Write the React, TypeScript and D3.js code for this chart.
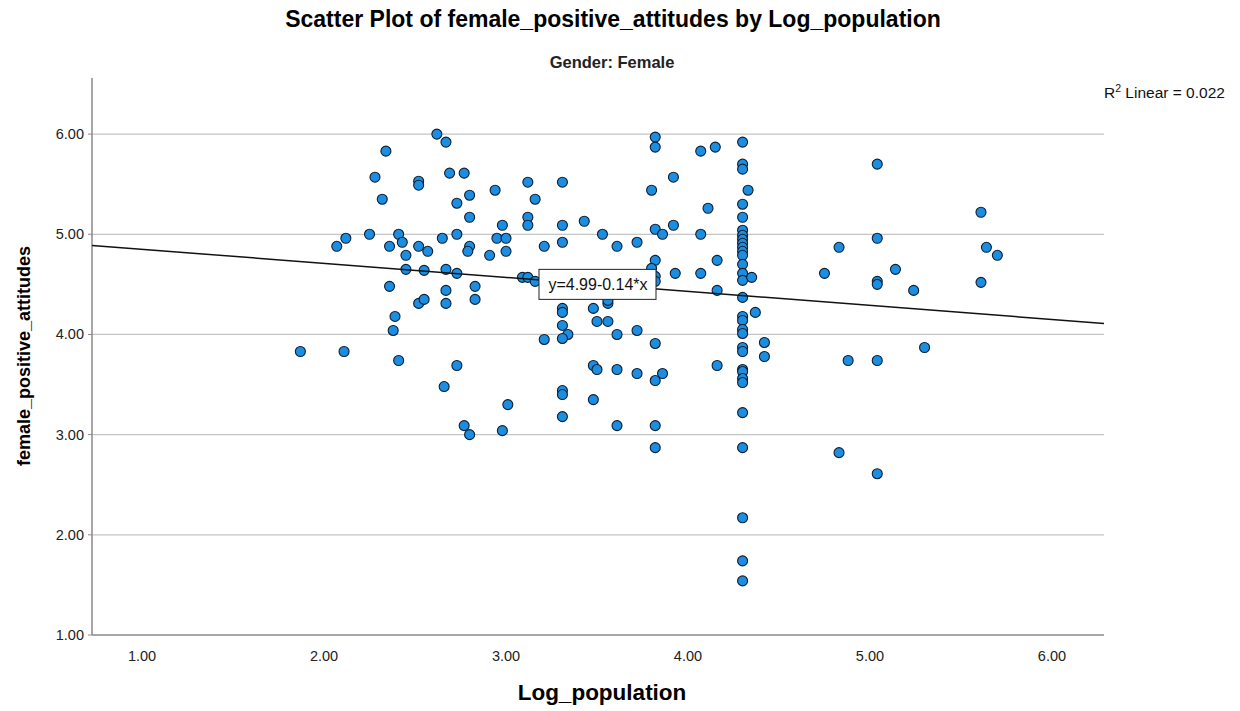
import React from "react";
import * as d3 from "d3";

const xValues: number[] = [
  1.87, 2.11, 2.07, 2.12, 2.25, 2.28, 2.32, 2.34, 2.36, 2.36, 2.39, 2.38, 2.41, 2.43, 2.45, 2.45, 2.41,
  2.52, 2.52, 2.52, 2.57, 2.55, 2.52, 2.55, 2.65, 2.62, 2.67, 2.69, 2.67, 2.67, 2.67, 2.73, 2.73, 2.73,
  2.73, 2.66, 2.77, 2.80, 2.80, 2.80, 2.79, 2.83, 2.83, 2.77, 2.80, 2.94, 2.95, 2.91, 2.98, 3.00, 3.00,
  2.98, 3.01, 3.12, 3.16, 3.12, 3.12, 3.09, 3.12, 3.16, 3.21, 3.21, 3.31, 3.31, 3.31, 3.31, 3.31, 3.31,
  3.34, 3.31, 3.31, 3.31, 3.31, 3.43, 3.53, 3.48, 3.50, 3.56, 3.56, 3.56, 3.48, 3.50, 3.48, 3.61, 3.61,
  3.61, 3.61, 3.72, 3.72, 3.72, 3.82, 3.82, 3.80, 3.82, 3.86, 3.82, 3.80, 3.82, 3.82, 3.82, 3.86, 3.82,
  3.82, 3.82, 3.92, 3.92, 3.93, 4.07, 4.15, 4.11, 4.07, 4.07, 4.16, 4.16, 4.16,
  4.30, 4.30, 4.30, 4.30, 4.30, 4.30, 4.30, 4.30, 4.30, 4.30, 4.30, 4.30, 4.30, 4.30, 4.30, 4.30,
  4.30, 4.30, 4.30, 4.30, 4.30, 4.30, 4.30, 4.30, 4.30, 4.30, 4.30, 4.30, 4.30, 4.30, 4.30,
  4.33, 4.35, 4.37, 4.42, 4.42,
  4.75, 4.83, 4.83, 4.88, 5.04, 5.04, 5.04, 5.04, 5.04, 5.04, 5.14, 5.24, 5.30, 5.61, 5.61, 5.64, 5.70,
];

const yValues: number[] = [
  3.83, 3.83, 4.88, 4.96, 5.0, 5.57, 5.35, 5.83, 4.88, 4.48, 4.18, 4.04, 5.0, 4.92, 4.79, 4.65, 3.74,
  4.88, 5.53, 5.49, 4.83, 4.64, 4.31, 4.35, 4.96, 6.0, 5.92, 5.61, 4.65, 4.44, 4.31, 3.69, 5.0, 5.31,
  4.61, 3.48, 5.61, 5.39, 5.17, 4.88, 4.83, 4.48, 4.35, 3.09, 3.0, 5.44, 4.96, 4.79, 5.09, 4.96, 4.83,
  3.04, 3.30, 5.52, 5.35, 5.17, 5.09, 4.57, 4.57, 4.53, 4.88, 3.95, 5.52, 5.09, 4.92, 4.26, 4.22, 4.09,
  4.0, 3.96, 3.44, 3.40, 3.18, 5.13, 5.0, 4.26, 4.13, 4.13, 4.31, 4.34, 3.69, 3.65, 3.35, 4.88, 4.0,
  3.65, 3.09, 4.92, 4.04, 3.61, 5.97, 5.87, 5.44, 5.05, 5.0, 4.74, 4.66, 4.58, 4.53, 3.91, 3.61, 3.54,
  3.09, 2.87, 5.57, 5.09, 4.61, 5.83, 5.87, 5.26, 5.0, 4.61, 4.74, 4.44, 3.69,
  5.92, 5.70, 5.65, 5.30, 5.17, 5.04, 4.99, 4.95, 4.91, 4.87, 4.83, 4.79, 4.70, 4.61, 4.54, 4.37,
  4.18, 4.14, 4.05, 4.01, 3.87, 3.83, 3.65, 3.63, 3.56, 3.52, 3.22, 2.87, 2.17, 1.74, 1.54,
  5.44, 4.57, 4.22, 3.92, 3.78,
  4.61, 4.87, 2.82, 3.74, 5.70, 4.96, 4.53, 4.50, 3.74, 2.61, 4.65, 4.44, 3.87, 5.22, 4.52, 4.87, 4.79,
];

const xTicks: number[] = [1, 2, 3, 4, 5, 6];
const yTicks: number[] = [1, 2, 3, 4, 5, 6];
const fitCoefficients: number[] = [4.99, -0.14]; // intercept, slope
const rSquared = "0.022";
const equationLabelX = 3.5;

const FONT = "'Liberation Sans', Arial, Helvetica, sans-serif";

export default function App() {
  const W = 1240;
  const H = 711;
  const left = 92;
  const right = 1104;
  const top = 78;
  const bottom = 635;

  const x = d3.scaleLinear().domain([0.725, 6.286]).range([left, right]);
  const y = d3.scaleLinear().domain([1, 6.56]).range([bottom, top]);

  const [b0, b1] = fitCoefficients;
  const fit = (v: number) => b0 + b1 * v;
  const xd = x.domain();
  const line = d3
    .line<number>()
    .x((d) => x(d))
    .y((d) => y(fit(d)));

  const points = xValues.map((v, i) => ({ x: v, y: yValues[i] }));
  const labelCx = x(equationLabelX);
  const labelCy = y(fit(equationLabelX));

  return (
    <svg
      width={W}
      height={H}
      style={{ position: "absolute", left: 0, top: 0, background: "#fff" }}
      fontFamily={FONT}
    >
      <rect x={0} y={0} width={W} height={H} fill="#fff" />
      {/* titles */}
      <text x={613} y={27} textAnchor="middle" fontSize={23} fontWeight="bold" fill="#000">
        Scatter Plot of female_positive_attitudes by Log_population
      </text>
      <text x={612} y={68} textAnchor="middle" fontSize={16.5} fontWeight="bold" fill="#222">
        Gender: Female
      </text>

      {/* grid */}
      {yTicks
        .filter((t) => t > 1)
        .map((t) => (
          <line key={"g" + t} x1={left} x2={right} y1={y(t)} y2={y(t)} stroke="#c4c4c4" strokeWidth={1.3} />
        ))}

      {/* axes */}
      <line x1={left} x2={left} y1={top} y2={bottom} stroke="#8a8a8a" strokeWidth={1.5} />
      <line x1={left} x2={right} y1={bottom} y2={bottom} stroke="#8a8a8a" strokeWidth={1.5} />
      {yTicks.map((t) => (
        <line key={"yt" + t} x1={left - 4} x2={left} y1={y(t)} y2={y(t)} stroke="#8a8a8a" strokeWidth={1} />
      ))}

      {yTicks.map((t) => (
        <text key={"yl" + t} x={84} y={y(t) + 5} textAnchor="end" fontSize={14.5} fill="#222">
          {d3.format(".2f")(t)}
        </text>
      ))}
      {xTicks.map((t) => (
        <text key={"xl" + t} x={x(t)} y={661} textAnchor="middle" fontSize={14.5} fill="#222">
          {d3.format(".2f")(t)}
        </text>
      ))}

      {/* axis titles */}
      <text x={602} y={700} textAnchor="middle" fontSize={22.5} fontWeight="bold" fill="#000">
        Log_population
      </text>
      <text
        transform={`translate(30, 356) rotate(-90)`}
        textAnchor="middle"
        fontSize={18}
        fontWeight="bold"
        fill="#000"
      >
        female_positive_attitudes
      </text>

      {/* points */}
      {points.map((p, i) => (
        <circle key={i} cx={x(p.x)} cy={y(p.y)} r={5} fill="#1b8ee2" stroke="#0d1f33" strokeWidth={1.1} />
      ))}

      {/* fit line */}
      <path d={line([xd[0], xd[1]]) || ""} fill="none" stroke="#111" strokeWidth={1.5} />

      {/* equation label */}
      <rect x={labelCx - 58} y={labelCy - 15} width={117} height={30} fill="#fff" stroke="#222" strokeWidth={1} />
      <text x={labelCx + 1} y={labelCy + 6} textAnchor="middle" fontSize={16} fill="#111">
        y=4.99-0.14*x
      </text>

      {/* R2 */}
      <text x={1104} y={98} fontSize={15.5} fill="#111">
        R<tspan dy={-6} fontSize={10.5}>2</tspan>
        <tspan dy={6}> Linear = {rSquared}</tspan>
      </text>
    </svg>
  );
}
